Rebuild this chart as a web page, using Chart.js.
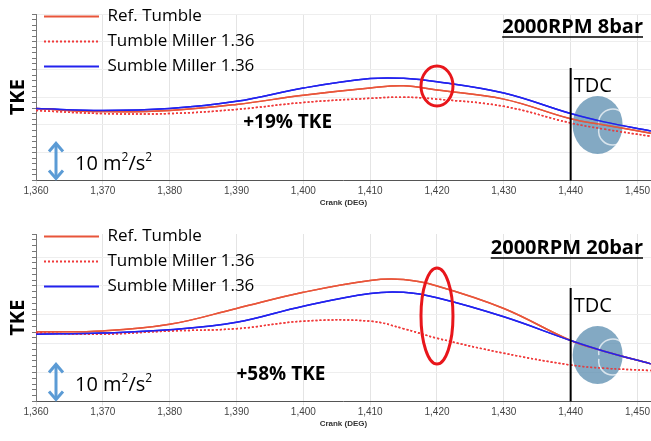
<!DOCTYPE html>
<html><head><meta charset="utf-8">
<script src="https://cdn.jsdelivr.net/npm/chart.js@4"></script>
<style>body{margin:0;background:#fff}.box{position:relative;width:651px;height:220px}</style>
</head><body>
<div class="box"><canvas id="c1"></canvas></div>
<div class="box" style="height:221px"><canvas id="c2"></canvas></div>
<script>
// crank angles (deg)
const crank = [1360, 1370, 1380, 1390, 1400, 1410, 1415, 1420, 1430, 1440, 1445, 1452];
const tickVals = [1360, 1370, 1380, 1390, 1400, 1410, 1420, 1430, 1440, 1450];
// 2000RPM 8bar
const ref8 = [25.9, 24.8, 25.2, 27.4, 30.7, 33.3, 34.1, 32.6, 29.3, 22.2, 20.0, 17.0];
const tum8 = [25.2, 24.1, 24.1, 25.6, 28.1, 29.6, 30.0, 29.3, 26.7, 20.7, 18.5, 15.9];
const sum8 = [25.9, 25.2, 25.9, 28.5, 33.3, 36.7, 36.8, 35.6, 31.5, 24.1, 21.1, 17.8];
// 2000RPM 20bar
const ref20 = [24.1, 24.4, 26.7, 32.2, 37.8, 41.9, 42.2, 40.0, 32.2, 21.1, 17.4, 13.0];
const tum20 = [23.7, 23.3, 24.4, 25.2, 27.8, 27.8, 25.2, 21.9, 16.7, 12.6, 11.5, 10.7];
const sum20 = [23.3, 23.7, 24.8, 27.4, 33.0, 37.4, 37.8, 35.9, 29.3, 21.1, 17.4, 13.0];

const pts = a => crank.map((x, i) => ({x: x, y: a[i]}));

const deco = {
  id: 'deco',
  afterDatasetsDraw(ch, args, o) {
    const c = ch.ctx, xs = ch.scales.x, a = ch.chartArea;
    c.save();
    // TDC disc
    const tx = xs.getPixelForValue(1440);
    c.fillStyle = 'rgba(90,140,175,0.75)';
    c.beginPath(); c.ellipse(tx + 27, o.discY, 25, 29, 0, 0, Math.PI * 2); c.fill();
    c.strokeStyle = 'rgba(255,255,255,0.7)'; c.lineWidth = 1.5;
    c.beginPath(); c.arc(tx + 42, o.discY - 2, 14, Math.PI * 0.95, Math.PI * 1.75); c.stroke();
    c.beginPath(); c.arc(tx + 42, o.discY + 6, 14, Math.PI * 0.25, Math.PI * 1.05); c.stroke();
    ch.getSortedVisibleDatasetMetas().forEach(m => m.controller.draw());
    c.strokeStyle = '#000'; c.lineWidth = 2;
    c.beginPath(); c.moveTo(tx, o.tdcTop); c.lineTo(tx, a.bottom); c.stroke();
    c.fillStyle = '#000'; c.font = '20px "Open Sans", sans-serif';
    c.fillText('TDC', tx + 3, o.tdcTop + 24);
    // red ellipse
    const ex = xs.getPixelForValue(1420);
    c.strokeStyle = '#e8161b'; c.lineWidth = 3;
    c.beginPath(); c.ellipse(ex, o.ellY, o.ellRx, o.ellRy, 0, 0, Math.PI * 2); c.stroke();
    // title
    c.strokeStyle = '#000';
    c.font = 'bold 20px "Open Sans", sans-serif'; c.textAlign = 'right';
    c.fillText(o.title, 643, o.titleY);
    const w = c.measureText(o.title).width;
    c.lineWidth = 1.5; c.beginPath(); c.moveTo(643 - w, o.titleY + 4); c.lineTo(643, o.titleY + 4); c.stroke();
    // gain label
    c.textAlign = 'left'; c.font = 'bold 19px "Open Sans", sans-serif';
    c.fillText(o.gain, xs.getPixelForValue(o.gainX), o.gainY);
    // scale arrow
    const ax = 56, y0 = a.bottom - 37, y1 = a.bottom - 2;
    c.strokeStyle = '#5b9bd5'; c.lineWidth = 3;
    c.beginPath(); c.moveTo(ax, y0 + 2); c.lineTo(ax, y1 - 2); c.stroke();
    c.beginPath(); c.moveTo(ax - 7, y0 + 8); c.lineTo(ax, y0); c.lineTo(ax + 7, y0 + 8); c.stroke();
    c.beginPath(); c.moveTo(ax - 7, y1 - 8); c.lineTo(ax, y1); c.lineTo(ax + 7, y1 - 8); c.stroke();
    c.fillStyle = '#000';
    let x = 75; const by = a.bottom - 10;
    const part = (t, f, dy) => { c.font = f; c.fillText(t, x, by + dy); x += c.measureText(t).width; };
    part('10 m', '20px "Open Sans", sans-serif', 0);
    part('2', '12px "Open Sans", sans-serif', -9);
    part('/s', '20px "Open Sans", sans-serif', 0);
    part('2', '12px "Open Sans", sans-serif', -9);
    c.restore();
  }
};

function make(id, r, t, s, o) {
  return new Chart(document.getElementById(id), {
    type: 'line',
    plugins: [deco],
    data: {
      datasets: [
        {label: 'Ref. Tumble', data: pts(r), borderColor: '#e8553a', borderWidth: 1.5},
        {label: 'Tumble Miller 1.36', data: pts(t), borderColor: '#f03a3a', borderWidth: 1.5, borderDash: [2, 2]},
        {label: 'Sumble Miller 1.36', data: pts(s), borderColor: '#2222ee', borderWidth: 1.5}
      ]
    },
    options: {
      animation: false, responsive: true, maintainAspectRatio: false,
      layout: {padding: {top: 14, right: 0, left: 4, bottom: 12}},
      elements: {point: {radius: 0}, line: {tension: 0.4}},
      plugins: {
        legend: {
          position: 'chartArea', align: 'start',
          labels: {boxWidth: 55, boxHeight: 0, color: '#333', font: {size: 17, family: '"Open Sans", sans-serif'}, padding: 8,
            generateLabels: ch => ch.data.datasets.map((d, i) => ({text: d.label, strokeStyle: d.borderColor, fillStyle: d.borderColor, lineWidth: 2, lineDash: d.borderDash || [], datasetIndex: i}))}
        },
        tooltip: {enabled: false},
        deco: o
      },
      scales: {
        x: {type: 'linear', min: 1360, max: 1452,
          afterBuildTicks: ax => { ax.ticks = tickVals.map(v => ({value: v})); },
          ticks: {color: '#444', font: {size: 10}, maxRotation: 0, padding: 1, callback: v => v.toLocaleString('en-US')},
          grid: {color: '#e4e4e4', tickLength: 4},
          border: {color: '#555'},
          title: {display: true, text: 'Crank (DEG)', font: {size: 8, weight: 'bold'}, padding: 0, color: '#333'}},
        y: {min: 0, max: o.ymax,
          ticks: {stepSize: 2, display: false},
          grid: {color: c => c.tick.value % 10 === 0 ? '#eeeeee' : 'transparent', tickColor: '#777', tickLength: 4},
          border: {color: '#777'},
          title: {display: true, text: 'TKE', font: {size: 20, weight: 'bold', family: '"Open Sans", sans-serif'}, color: '#000', padding: 2}}
      }
    }
  });
}

make('c1', ref8, tum8, sum8, {title: '2000RPM 8bar', titleY: 33, gain: '+19% TKE', gainX: 1391, gainY: 128, ymax: 60,
  discY: 125, tdcTop: 68, ellY: 86, ellRx: 16, ellRy: 20});
make('c2', ref20, tum20, sum20, {title: '2000RPM 20bar', titleY: 34, gain: '+58% TKE', gainX: 1390, gainY: 160, ymax: 58,
  discY: 135, tdcTop: 68, ellY: 96, ellRx: 16, ellRy: 48});
</script>
</body></html>
